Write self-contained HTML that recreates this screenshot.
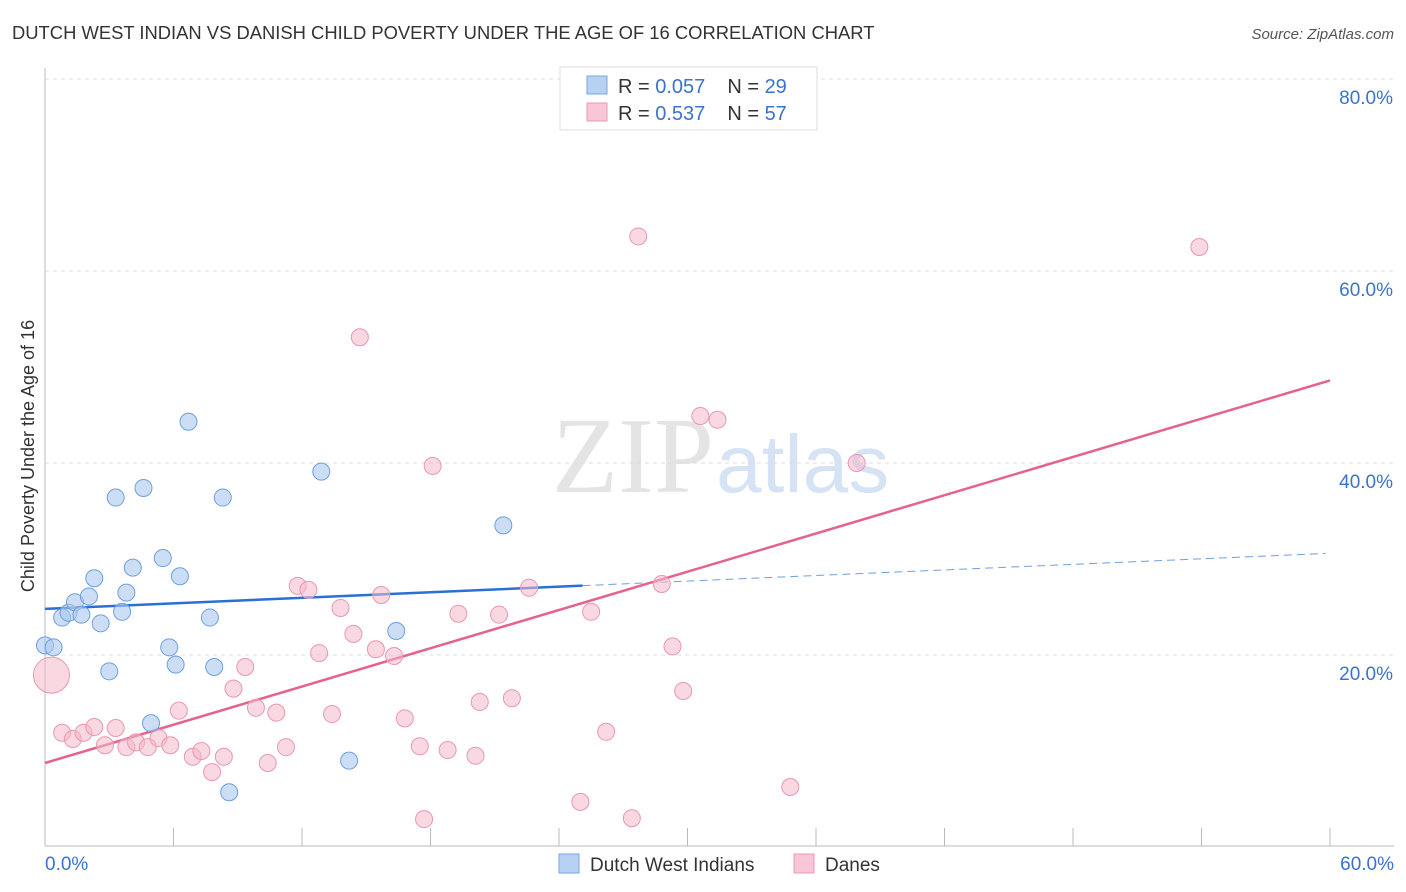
<!DOCTYPE html>
<html><head><meta charset="utf-8"><style>
body{margin:0;background:#fff;font-family:"Liberation Sans",sans-serif;}
svg{display:block}
</style></head><body>
<svg id="chart" width="1406" height="892" viewBox="0 0 1406 892" xmlns="http://www.w3.org/2000/svg">
<text x="12" y="39" font-size="18.4" fill="#333">DUTCH WEST INDIAN VS DANISH CHILD POVERTY UNDER THE AGE OF 16 CORRELATION CHART</text>
<text x="1394" y="39" font-size="15" fill="#555" text-anchor="end" font-style="italic">Source: ZipAtlas.com</text>
<text x="714" y="492" font-size="108" fill="#e4e4e4" text-anchor="end" font-family="Liberation Serif">ZIP</text>
<text x="716" y="492" font-size="82" fill="#d6e3f5">atlas</text>
<g id="grid"></g>
<g id="axes"></g>
<g id="lines"></g>
<g id="points"></g>
<text transform="translate(34,456) rotate(-90)" font-size="18" fill="#333" text-anchor="middle">Child Poverty Under the Age of 16</text>
<g>
<rect x="560" y="67" width="257" height="63" fill="#fff" stroke="#ddd"/>
<rect x="587" y="76" width="20" height="18" fill="#b7d1f3" stroke="#7aa6e0"/>
<rect x="587" y="103" width="20" height="18" fill="#f8c6d5" stroke="#e898b2"/>
<text x="618" y="93" font-size="20" fill="#333">R = <tspan fill="#3b73cc">0.057</tspan><tspan dx="22">N = </tspan><tspan fill="#3b73cc">29</tspan></text>
<text x="618" y="120" font-size="20" fill="#333">R = <tspan fill="#3b73cc"> 0.537</tspan><tspan dx="22">N = </tspan><tspan fill="#3b73cc">57</tspan></text>
</g>
<g>
<rect x="559" y="854" width="20" height="19" fill="#b7d1f3" stroke="#7aa6e0"/>
<text x="590" y="871" font-size="19" fill="#333">Dutch West Indians</text>
<rect x="794" y="854" width="20" height="19" fill="#f8c6d5" stroke="#e898b2"/>
<text x="825" y="871" font-size="19" fill="#333">Danes</text>
</g>
</svg>
<script>
const blueX=[0,0.4,0.8,1.1,1.4,1.7,2.05,2.3,2.6,3.0,3.3,3.6,3.8,4.1,4.6,4.95,5.5,5.8,6.1,6.3,6.7,7.7,7.9,8.3,8.6,12.9,14.2,16.4,21.4];
const blueY=[21.0,20.8,23.9,24.4,25.5,24.2,26.1,28.0,23.3,18.3,36.4,24.5,26.5,29.1,37.4,12.9,30.1,20.8,19.0,28.2,44.3,23.9,18.75,36.4,5.7,39.1,9.0,22.5,33.5];
const pinkX=[0.3,0.8,1.3,1.8,2.3,2.8,3.3,3.8,4.25,4.8,5.3,5.85,6.25,6.9,7.3,7.8,8.35,8.8,9.35,9.85,10.4,10.8,11.25,11.8,12.3,12.8,13.4,13.8,14.4,14.7,15.45,15.7,16.3,16.8,17.5,17.7,18.1,18.8,19.3,20.1,20.3,21.2,21.8,22.6,25.0,25.5,26.2,27.4,27.7,28.8,29.3,29.8,30.6,31.4,34.8,37.9,53.9];
const pinkY=[17.9,11.9,11.25,11.9,12.5,10.6,12.4,10.4,10.9,10.4,11.35,10.6,14.2,9.4,10.0,7.8,9.4,16.5,18.75,14.5,8.75,14.0,10.4,27.2,26.8,20.2,13.85,24.9,22.2,53.1,20.6,26.25,19.9,13.4,10.5,2.9,39.7,10.1,24.3,9.5,15.1,24.2,15.5,27.0,4.7,24.5,12.0,3.0,63.6,27.4,20.9,16.25,44.9,44.5,6.25,40.0,62.5];
const blueTrend=[24.8,30.6];
const pinkTrend=[8.75,48.6];
const yTicks=[20,40,60,80];
const xTickLabels=["0.0%","60.0%"];
const NS="http://www.w3.org/2000/svg";
const X=v=>45+v*(1285/60);
const Y=v=>847-v*9.6;
function mk(tag,attrs,parent){const e=document.createElementNS(NS,tag);for(const k in attrs)e.setAttribute(k,attrs[k]);document.getElementById(parent).appendChild(e);return e;}
yTicks.forEach(t=>{
 const g=mk('line',{x1:45,x2:1394,y1:Y(t),y2:Y(t),stroke:'#ddd','stroke-dasharray':'4,4'},'grid');
 
 
 const l=mk('text',{x:1393,y:Y(t)+25,'font-size':19,fill:'#3b73cc','text-anchor':'end'},'grid');
 l.textContent=t.toFixed(1)+'%';
 
 
});
const ax=mk('line',{x1:45,x2:1394,y1:846,y2:846,stroke:'#bbb'},'axes');


const ay=mk('line',{x1:45,x2:45,y1:68,y2:846,stroke:'#bbb'},'axes');


for(let i=0;i<=10;i++){
 const t=mk('line',{x1:X(i*6),x2:X(i*6),y1:828,y2:846,stroke:'#bbb'},'axes');
 
 
}
[[0,'start',45],[1,'end',1394]].forEach(([i,a,x])=>{
 const l=mk('text',{x:x,y:870,'font-size':19,fill:'#3b73cc','text-anchor':a},'axes');
 l.textContent=xTickLabels[i];
 
 
});
const bEnd=25.1;
const by=v=>blueTrend[0]+(blueTrend[1]-blueTrend[0])*v/60;
const bs=mk('line',{x1:X(0),y1:Y(by(0)),x2:X(bEnd),y2:Y(by(bEnd)),stroke:'#2a6fd6','stroke-width':2.5},'lines');


const bd=mk('line',{x1:X(bEnd),y1:Y(by(bEnd)),x2:X(59.8),y2:Y(by(59.8)),stroke:'#6f9fdd','stroke-width':1,'stroke-dasharray':'8,5'},'lines');


const pl=mk('line',{x1:X(0),y1:Y(pinkTrend[0]),x2:X(60),y2:Y(pinkTrend[1]),stroke:'#e5628c','stroke-width':2.5},'lines');


pinkX.forEach((v,i)=>{
 const c=mk('circle',{cx:X(v),cy:Y(pinkY[i]),r:i===0?18:8.5,fill:'#f5b8c9','fill-opacity':0.55,stroke:'#e898b2','stroke-width':1},'points');
 
 
});
blueX.forEach((v,i)=>{
 const c=mk('circle',{cx:X(v),cy:Y(blueY[i]),r:8.5,fill:'#aac8f0','fill-opacity':0.6,stroke:'#6f9fdd','stroke-width':1},'points');
 
 
});
</script>
</body></html>
